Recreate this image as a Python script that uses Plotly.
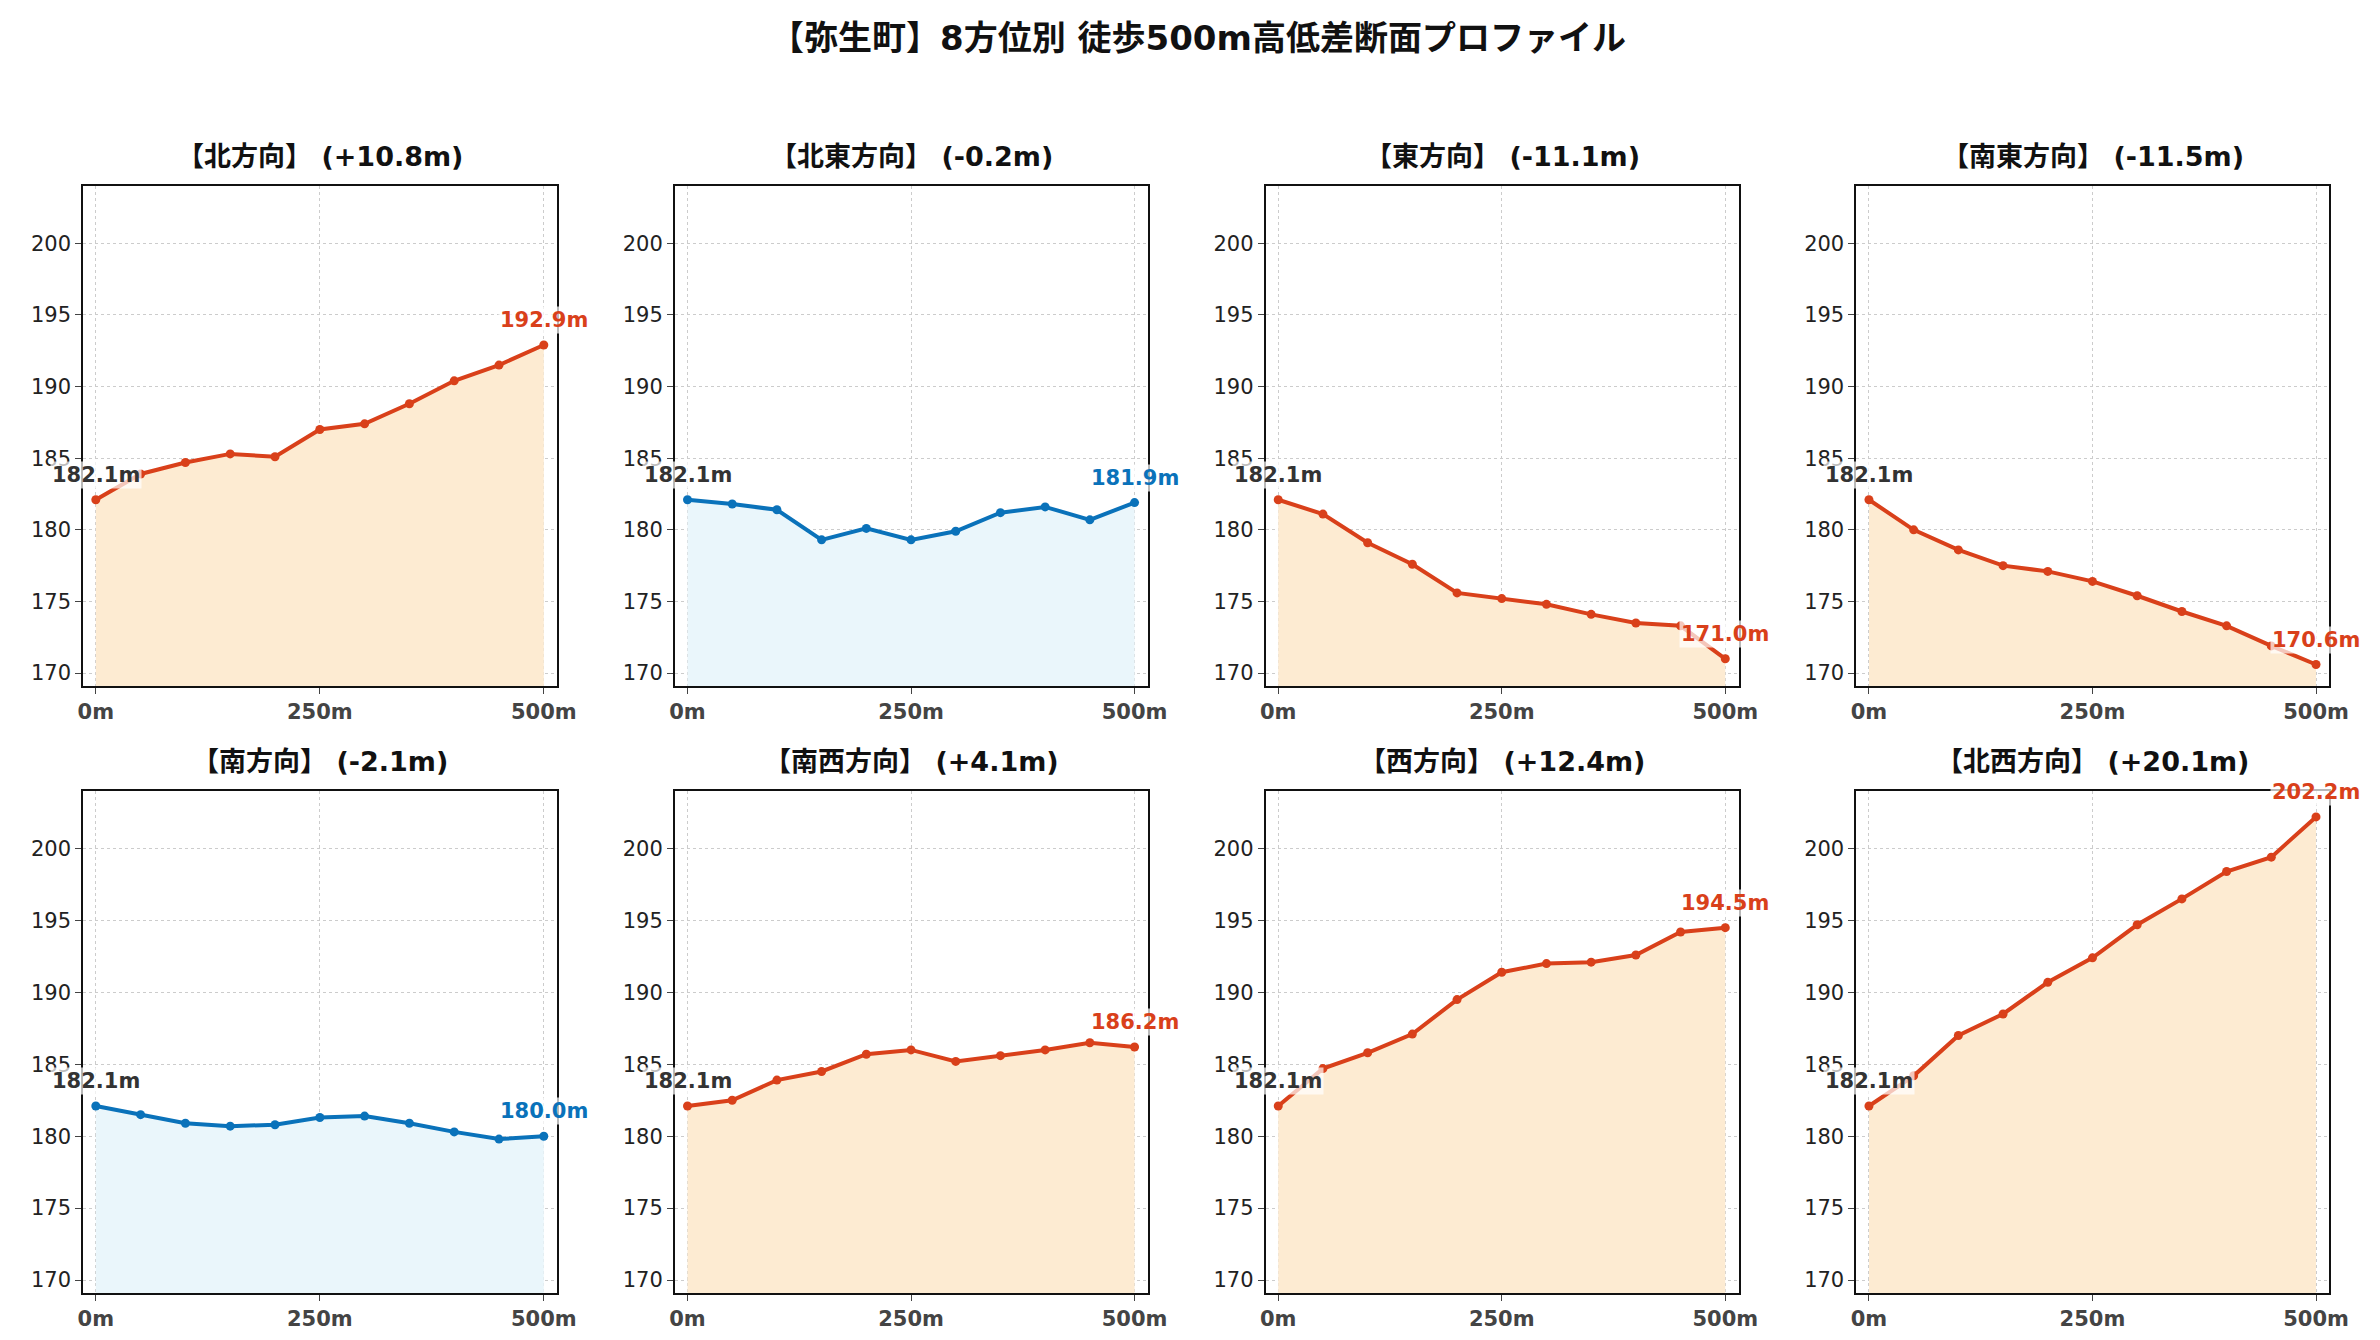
import plotly.graph_objects as go
from plotly.subplots import make_subplots

distances = [0, 50, 100, 150, 200, 250, 300, 350, 400, 450, 500]
directions = ["北方向", "北東方向", "東方向", "南東方向", "南方向", "南西方向", "西方向", "北西方向"]
elev_n = [182.1, 183.9, 184.7, 185.3, 185.1, 187.0, 187.4, 188.8, 190.4, 191.5, 192.9]
elev_ne = [182.1, 181.8, 181.4, 179.3, 180.1, 179.3, 179.9, 181.2, 181.6, 180.7, 181.9]
elev_e = [182.1, 181.1, 179.1, 177.6, 175.6, 175.2, 174.8, 174.1, 173.5, 173.3, 171.0]
elev_se = [182.1, 180.0, 178.6, 177.5, 177.1, 176.4, 175.4, 174.3, 173.3, 171.9, 170.6]
elev_s = [182.1, 181.5, 180.9, 180.7, 180.8, 181.3, 181.4, 180.9, 180.3, 179.8, 180.0]
elev_sw = [182.1, 182.5, 183.9, 184.5, 185.7, 186.0, 185.2, 185.6, 186.0, 186.5, 186.2]
elev_w = [182.1, 184.7, 185.8, 187.1, 189.5, 191.4, 192.0, 192.1, 192.6, 194.2, 194.5]
elev_nw = [182.1, 184.2, 187.0, 188.5, 190.7, 192.4, 194.7, 196.5, 198.4, 199.4, 202.2]
profiles = [elev_n, elev_ne, elev_e, elev_se, elev_s, elev_sw, elev_w, elev_nw]

FONT = "DejaVu Sans, Noto Sans CJK JP"
W, H = 2380, 1340

# panel boxes in pixels (left, right) / (top, bottom)
cols_px = [(70, 549), (668, 1146), (1265, 1743), (1862, 2340)]
rows_px = [(178, 678), (783, 1285)]

fig = make_subplots(rows=2, cols=4)

for i, (name, elev) in enumerate(zip(directions, profiles)):
    r, c = i // 4 + 1, i % 4 + 1
    diff = elev[-1] - elev[0]
    big = abs(diff) >= 3
    line_c = "#d9401a" if big else "#0a72ba"
    fill_c = "#fdebd2" if big else "#eaf6fb"
    fig.add_trace(go.Scatter(
        x=distances, y=elev, mode="lines+markers", fill="tozeroy",
        fillcolor=fill_c, line=dict(color=line_c, width=4),
        marker=dict(size=9, color=line_c), showlegend=False), row=r, col=c)
    k = i + 1
    xr = f"x{k if k > 1 else ''}"
    yr = f"y{k if k > 1 else ''}"
    fig.add_annotation(x=distances[0], y=elev[0], xref=xr, yref=yr,
                       text=f"<b>{elev[0]:.1f}m</b>", showarrow=False, yshift=25,
                       xanchor="center",
                       font=dict(family=FONT, size=21, color="#333333"),
                       bgcolor="rgba(255,255,255,0.7)")
    fig.add_annotation(x=distances[-1], y=elev[-1], xref=xr, yref=yr,
                       text=f"<b>{elev[-1]:.1f}m</b>", showarrow=False, yshift=25,
                       xanchor="center",
                       font=dict(family=FONT, size=21, color=line_c),
                       bgcolor="rgba(255,255,255,0.7)")
    x0, x1 = cols_px[c - 1]
    y0, y1 = rows_px[r - 1]
    fig.update_xaxes(domain=[x0 / W, x1 / W], row=r, col=c)
    fig.update_yaxes(domain=[1 - y1 / H, 1 - y0 / H], row=r, col=c)
    fig.add_annotation(x=(x0 + x1) / 2 / W, y=1 - (y0 - 12) / H, xref="paper", yref="paper",
                       text=f"<b>【{name}】 ({diff:+.1f}m)</b>", showarrow=False,
                       xanchor="center", yanchor="bottom",
                       font=dict(family=FONT, size=27, color="#111111"))

fig.update_xaxes(range=[-14, 515], tickvals=[0, 250, 500],
                 ticktext=["<b>0m</b>", "<b>250m</b>", "<b>500m</b>"],
                 tickfont=dict(family=FONT, size=21, color="#444444"),
                 showgrid=True, gridcolor="#cccccc", griddash="dot", zeroline=False,
                 showline=True, linecolor="#111111", linewidth=2, mirror=True,
                 ticks="outside", ticklen=6)
fig.update_yaxes(range=[169.1, 204], tickvals=[170, 175, 180, 185, 190, 195, 200],
                 tickfont=dict(family=FONT, size=21, color="#222222"),
                 showgrid=True, gridcolor="#cccccc", griddash="dot", zeroline=False,
                 showline=True, linecolor="#111111", linewidth=2, mirror=True,
                 ticks="outside", ticklen=6)

fig.update_layout(
    width=W, height=H, plot_bgcolor="white", paper_bgcolor="white",
    margin=dict(l=0, r=0, t=0, b=0),
    title=dict(text="<b>【弥生町】8方位別 徒歩500m高低差断面プロファイル</b>",
               x=0.5, y=1 - 30 / H, xanchor="center", yanchor="middle",
               font=dict(family=FONT, size=34, color="#111111")),
)

fig.write_html("out.html")
